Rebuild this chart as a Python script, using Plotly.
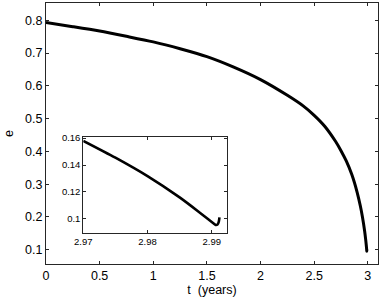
import plotly.graph_objects as go

# Main curve: eccentricity vs time (years)
t_years = [0, 0.25, 0.5, 0.75, 1.0, 1.25, 1.5, 1.75, 2.0, 2.25, 2.4, 2.5, 2.6, 2.7,
           2.75, 2.8, 2.85, 2.9, 2.93, 2.95, 2.97, 2.98, 2.985, 2.99, 2.9906, 2.9912]
ecc = [0.793, 0.7805, 0.767, 0.751, 0.734, 0.713, 0.689, 0.657, 0.619, 0.571, 0.538,
       0.510, 0.476, 0.430, 0.402, 0.370, 0.330, 0.276, 0.234, 0.200, 0.1580, 0.1318,
       0.1160, 0.0978, 0.0955, 0.1012]

# Inset (zoom on the end of the evolution)
inset_t = [2.97, 2.975, 2.98, 2.985, 2.988, 2.9903, 2.9906, 2.9909, 2.9911, 2.9912]
inset_e = [0.1580, 0.1455, 0.1318, 0.1160, 0.1052, 0.0966, 0.0955, 0.0958, 0.0980, 0.1012]

main_xticks = [0, 0.5, 1, 1.5, 2, 2.5, 3]
main_yticks = [0.1, 0.2, 0.3, 0.4, 0.5, 0.6, 0.7, 0.8]
inset_xticks = [2.97, 2.98, 2.99]
inset_yticks = [0.1, 0.12, 0.14, 0.16]

FONT = "Liberation Sans, Arial, Helvetica, sans-serif"
AX = "#262626"

fig = go.Figure()
fig.add_trace(go.Scatter(x=t_years, y=ecc, mode="lines",
                         line=dict(color="black", width=3, shape="spline", smoothing=0.8),
                         xaxis="x", yaxis="y", showlegend=False, hoverinfo="skip"))
fig.add_trace(go.Scatter(x=inset_t, y=inset_e, mode="lines",
                         line=dict(color="black", width=2.6, shape="spline", smoothing=0.7),
                         xaxis="x2", yaxis="y2", showlegend=False, hoverinfo="skip"))

axis_common = dict(showgrid=False, zeroline=False, showline=True, linecolor=AX, linewidth=1,
                   mirror="ticks", ticks="inside", ticklen=3, tickcolor=AX, tickwidth=1,
                   automargin=False)

fig.update_layout(
    width=381, height=301,
    margin=dict(l=46, r=3, t=3, b=37, autoexpand=False),
    paper_bgcolor="white", plot_bgcolor="white",
    font=dict(family=FONT, color="black", size=12),
    xaxis=dict(domain=[0, 1], range=[0, 3.095], tickvals=main_xticks,
               ticktext=["0", "0.5", "1", "1.5", "2", "2.5", "3"],
               title=dict(text="t  (years)", standoff=0, font=dict(size=12.5)),
               tickfont=dict(size=12.5), **axis_common),
    yaxis=dict(domain=[0, 1], range=[0.0565, 0.8527], tickvals=main_yticks,
               ticktext=["0.1", "0.2", "0.3", "0.4", "0.5", "0.6", "0.7", "0.8"],
               title=dict(text="e", standoff=8, font=dict(size=12.5)),
               tickfont=dict(size=12.5), **axis_common),
    xaxis2=dict(domain=[0.1123, 0.5437], range=[2.97, 2.9923], tickvals=inset_xticks,
                ticktext=["2.97", "2.98", "2.99"], anchor="y2",
                tickfont=dict(size=9.5), **axis_common),
    yaxis2=dict(domain=[0.1185, 0.4885], range=[0.0895, 0.1612], tickvals=inset_yticks,
                ticktext=["0.1", "0.12", "0.14", "0.16"], anchor="x2",
                tickfont=dict(size=9.5), **axis_common),
)

fig.write_html("out.html", config={"displayModeBar": False},
               post_script="document.body.style.margin='0';")
